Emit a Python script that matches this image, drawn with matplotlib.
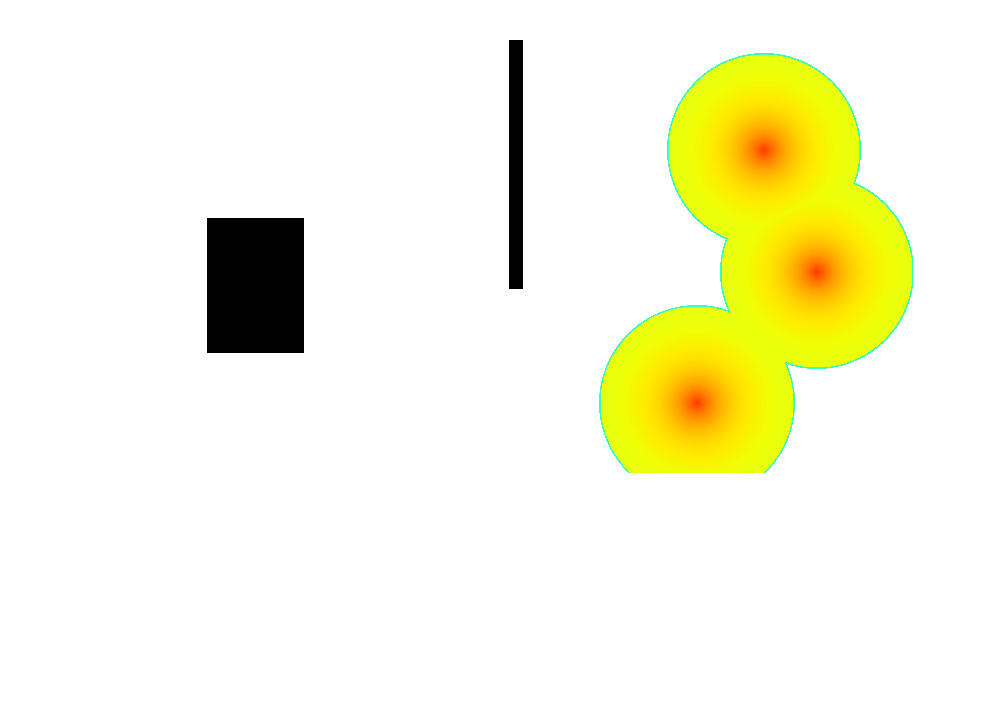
import numpy as np
import matplotlib.pyplot as plt
from matplotlib.patches import Rectangle

# Shapes in pixel coordinates (x, y from top-left)
rect_xy = (207, 218)
rect_size = (97, 135)
bar_xy = (509, 40)
bar_size = (14, 249)

# Radial spots: centres and radii
spot_x = [764, 817, 697]
spot_y = [150, 272, 403]
spot_r = [97, 97, 98]
spot_peak = [0.85, 0.85, 0.85]
spot_base = 0.625
rim_value = 0.42
img_extent = (598, 913, 473, 52)  # left, right, bottom, top

fig = plt.figure(figsize=(9.96, 7.2), dpi=100)
ax = fig.add_axes([0, 0, 1, 1])
ax.set_xlim(0, 996)
ax.set_ylim(720, 0)
ax.axis("off")

ax.add_patch(Rectangle(rect_xy, *rect_size, facecolor="black", edgecolor="none"))
ax.add_patch(Rectangle(bar_xy, *bar_size, facecolor="black", edgecolor="none"))

# build the spot field
xs = np.arange(img_extent[0], img_extent[1]) + 0.5
ys = np.arange(img_extent[3], img_extent[2]) + 0.5
X, Y = np.meshgrid(xs, ys)
field = np.full(X.shape, np.nan)
for cx, cy, r, pk in zip(spot_x, spot_y, spot_r, spot_peak):
    d = np.hypot(X - cx, Y - cy)
    v = spot_base + (pk - spot_base) * np.exp(-d / (0.29 * r))
    v = np.where(d > r - 1.5, rim_value, v)
    v = np.where(d > r, np.nan, v)
    field = np.fmax(field, v)

ax.imshow(field, cmap="jet", vmin=0, vmax=1, extent=img_extent,
          interpolation="nearest", aspect="auto")

fig.savefig("out.png", dpi=100)
